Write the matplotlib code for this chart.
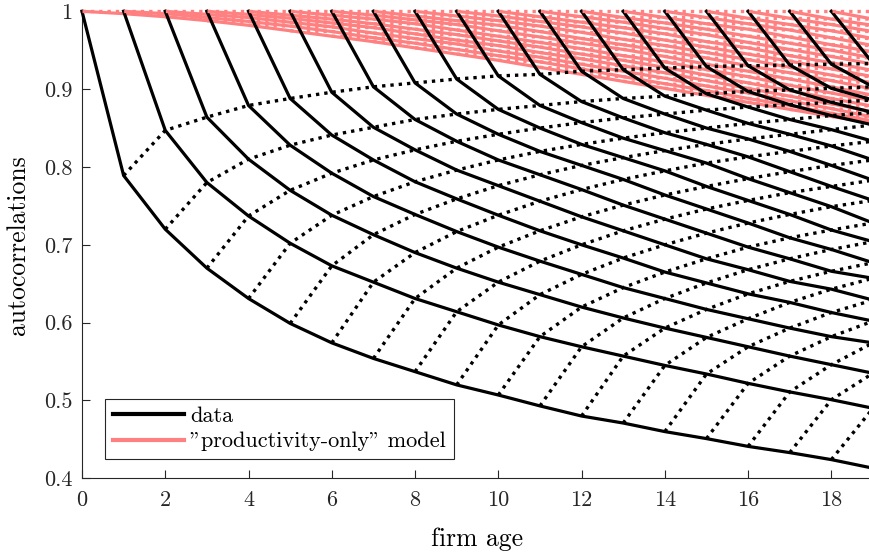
import numpy as np
import matplotlib
matplotlib.use("Agg")
import matplotlib.pyplot as plt

plt.rcParams['font.family'] = 'serif'
plt.rcParams['font.serif'] = ['cmr10']
plt.rcParams['mathtext.fontset'] = 'cm'
plt.rcParams['axes.formatter.use_mathtext'] = True

# autocorrelation between age a-k and age a, one list per lag k (ages k..19)
data_by_lag = [
    [0.789, 0.847, 0.864, 0.879, 0.888, 0.896, 0.903, 0.908, 0.913, 0.917, 0.919, 0.923, 0.925, 0.927, 0.929, 0.930, 0.931, 0.932, 0.933],
    [0.720, 0.780, 0.810, 0.828, 0.841, 0.851, 0.861, 0.868, 0.874, 0.879, 0.884, 0.888, 0.891, 0.894, 0.897, 0.899, 0.901, 0.903],
    [0.670, 0.737, 0.770, 0.792, 0.809, 0.822, 0.833, 0.842, 0.850, 0.857, 0.863, 0.868, 0.873, 0.877, 0.880, 0.883, 0.886],
    [0.631, 0.702, 0.738, 0.762, 0.781, 0.796, 0.809, 0.820, 0.829, 0.837, 0.844, 0.850, 0.856, 0.861, 0.866, 0.870],
    [0.599, 0.673, 0.713, 0.739, 0.759, 0.776, 0.790, 0.802, 0.812, 0.821, 0.829, 0.836, 0.842, 0.848, 0.854],
    [0.574, 0.652, 0.690, 0.717, 0.738, 0.756, 0.771, 0.784, 0.795, 0.805, 0.813, 0.820, 0.827, 0.833],
    [0.554, 0.631, 0.670, 0.697, 0.718, 0.736, 0.751, 0.764, 0.775, 0.785, 0.794, 0.802, 0.809],
    [0.537, 0.614, 0.652, 0.679, 0.700, 0.718, 0.733, 0.746, 0.757, 0.767, 0.775, 0.783],
    [0.520, 0.597, 0.636, 0.662, 0.683, 0.700, 0.715, 0.728, 0.739, 0.749, 0.757],
    [0.507, 0.582, 0.620, 0.645, 0.665, 0.682, 0.697, 0.709, 0.719, 0.728],
    [0.493, 0.569, 0.606, 0.631, 0.651, 0.668, 0.682, 0.694, 0.704],
    [0.480, 0.557, 0.593, 0.617, 0.637, 0.653, 0.666, 0.677],
    [0.471, 0.545, 0.581, 0.605, 0.626, 0.643, 0.657],
    [0.460, 0.534, 0.569, 0.593, 0.613, 0.629],
    [0.451, 0.522, 0.557, 0.582, 0.602],
    [0.441, 0.511, 0.546, 0.574],
    [0.433, 0.501, 0.535],
    [0.424, 0.490],
    [0.413],
]

# same layout for the productivity-only model
model_by_lag = [
    [0.997, 0.997, 0.996, 0.996, 0.995, 0.995, 0.995, 0.994, 0.994, 0.994, 0.993, 0.993, 0.992, 0.992, 0.992, 0.991, 0.991, 0.990, 0.990],
    [0.993, 0.992, 0.992, 0.991, 0.990, 0.990, 0.989, 0.988, 0.988, 0.987, 0.986, 0.986, 0.985, 0.984, 0.984, 0.983, 0.983, 0.982],
    [0.988, 0.987, 0.986, 0.985, 0.984, 0.984, 0.983, 0.982, 0.981, 0.980, 0.979, 0.978, 0.977, 0.977, 0.976, 0.975, 0.974],
    [0.982, 0.981, 0.980, 0.979, 0.977, 0.976, 0.975, 0.974, 0.973, 0.972, 0.971, 0.970, 0.968, 0.967, 0.966, 0.965],
    [0.975, 0.974, 0.972, 0.971, 0.970, 0.968, 0.967, 0.965, 0.964, 0.963, 0.961, 0.960, 0.959, 0.957, 0.956],
    [0.968, 0.966, 0.965, 0.963, 0.962, 0.960, 0.959, 0.957, 0.956, 0.954, 0.953, 0.951, 0.950, 0.948],
    [0.961, 0.959, 0.958, 0.956, 0.954, 0.952, 0.951, 0.949, 0.947, 0.945, 0.943, 0.942, 0.940],
    [0.953, 0.951, 0.949, 0.947, 0.945, 0.943, 0.942, 0.940, 0.938, 0.936, 0.934, 0.932],
    [0.945, 0.943, 0.941, 0.939, 0.937, 0.935, 0.932, 0.930, 0.928, 0.926, 0.924],
    [0.937, 0.935, 0.932, 0.930, 0.928, 0.925, 0.923, 0.921, 0.918, 0.916],
    [0.928, 0.926, 0.923, 0.921, 0.918, 0.916, 0.913, 0.911, 0.908],
    [0.919, 0.916, 0.914, 0.911, 0.908, 0.905, 0.903, 0.900],
    [0.910, 0.907, 0.904, 0.901, 0.898, 0.895, 0.892],
    [0.901, 0.898, 0.895, 0.891, 0.888, 0.885],
    [0.892, 0.888, 0.885, 0.881, 0.878],
    [0.883, 0.879, 0.875, 0.871],
    [0.874, 0.869, 0.864],
    [0.865, 0.859],
    [0.856],
]

max_age = 19
xticks = list(range(0, 19, 2))
yticks = [0.4, 0.5, 0.6, 0.7, 0.8, 0.9, 1.0]
ytick_labels = ['0.4', '0.5', '0.6', '0.7', '0.8', '0.9', '1']

fig = plt.figure(figsize=(8.69, 5.54), dpi=100)
ax = fig.add_axes([82 / 869, 1 - 478.3 / 554, 791 / 869, 467 / 554])

dot = (0, (1, 1.5))


def draw_grid(by_lag, color, z):
    # one solid line per starting age
    for s in range(max_age):
        ages = list(range(s, max_age + 1))
        vals = [1.0] + [by_lag[k - 1][s] for k in range(1, max_age - s + 1)]
        ax.plot(ages, vals, color=color, lw=2.3, zorder=z, clip_on=False,
                solid_joinstyle='miter')
    # one dotted line per lag
    for k in range(1, max_age):
        ages = list(range(k, max_age + 1))
        ax.plot(ages, by_lag[k - 1], color=color, lw=2.4, ls=dot, zorder=z + 0.5,
                clip_on=False)


red = '#ff8080'
draw_grid(model_by_lag, red, 2)
draw_grid(data_by_lag, 'black', 4)
ax.plot(range(0, max_age + 1), [1.0] * (max_age + 1), color=red, lw=2.4, ls=dot,
        zorder=6, clip_on=False)

ax.set_xlim(0, max_age)
ax.set_ylim(0.4, 1.0)
ax.set_xticks(xticks)
ax.set_xticklabels([str(t) for t in xticks])
ax.set_yticks(yticks)
ax.set_yticklabels(ytick_labels)
ax.tick_params(direction='in', length=6, width=0.8, colors='0.15', labelsize=16)
ax.tick_params(axis='x', pad=9)
ax.tick_params(axis='y', pad=7)
for side in ['top', 'right']:
    ax.spines[side].set_visible(False)
for side in ['left', 'bottom']:
    ax.spines[side].set_color('0.15')
    ax.spines[side].set_linewidth(0.8)

ax.set_xlabel('firm age', fontsize=18.5, labelpad=12)
ax.set_ylabel('autocorrelations', fontsize=18.5, labelpad=10)

h1, = ax.plot([], [], color='black', lw=3)
h2, = ax.plot([], [], color=red, lw=3)
leg = ax.legend([h1, h2], ['data', '"productivity-only" model'], loc='lower left',
                bbox_to_anchor=(0.029, 0.041), borderaxespad=0, fontsize=16,
                handlelength=3.2, handletextpad=0.3, borderpad=0.35,
                labelspacing=0.25, fancybox=False, framealpha=1, edgecolor='0.15')
leg.get_frame().set_linewidth(0.8)
leg.set_zorder(10)

fig.savefig('out.png', dpi=100)
